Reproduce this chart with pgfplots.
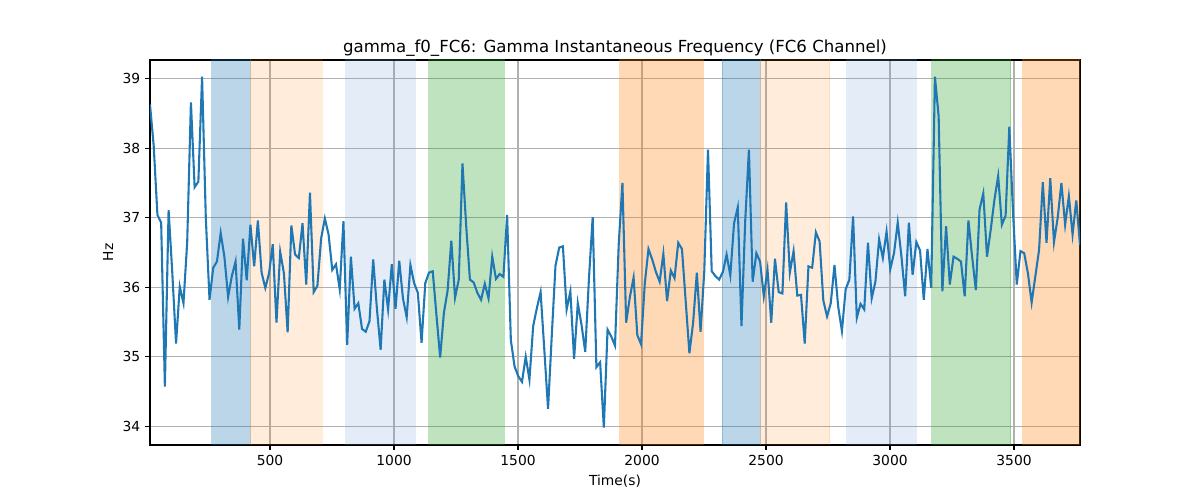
\documentclass[border=0pt]{standalone}
\usepackage{fontspec}
\setmainfont{DejaVu Sans}
\usepackage{pgfplots}
\pgfplotsset{compat=1.18}
\definecolor{tabblue}{HTML}{1F77B4}
\definecolor{taborange}{HTML}{FF7F0E}
\definecolor{tabgreen}{HTML}{2CA02C}
\definecolor{lblue}{RGB}{120,160,215}
\definecolor{gridgray}{HTML}{B0B0B0}
\newcommand{\band}[4]{\addplot[fill=#3, fill opacity=#4, draw=#3, draw opacity=#4, line width=0.72bp, forget plot] coordinates {(#1,30) (#2,30) (#2,40) (#1,40)} -- cycle;}
\begin{document}
\begin{tikzpicture}
\path[use as bounding box] (-108bp,-39.6bp) rectangle (756bp,320.4bp);
\begin{axis}[
 at={(0,0)}, anchor=south west,
 scale only axis, width=669.6bp, height=277.2bp,
 xmin=16, xmax=3766, ymin=33.73, ymax=39.27,
 xtick={500,1000,1500,2000,2500,3000,3500}, ytick={34,35,36,37,38,39},
 grid=major, grid style={gridgray, line width=0.8bp},
 tick align=outside, tick pos=left, major tick length=3.5bp,
 every tick/.style={black, line width=0.8bp},
 axis line style={line width=0.8bp},
 /pgf/number format/assume math mode=true,
 /pgf/number format/1000 sep={},
 tick label style={font=\fontsize{10}{12}\selectfont},
 title={gamma\_f0\_FC6: Gamma Instantaneous Frequency (FC6 Channel)},
 title style={font=\fontsize{12}{14}\selectfont, at={(0.5,1)}, anchor=south, yshift=-7bp},
 xlabel={Time(s)}, ylabel={Hz},
 label style={font=\fontsize{10}{12}\selectfont},
]
\band{265}{421}{tabblue}{0.3}
\band{421}{711}{taborange}{0.15}
\band{806}{1086}{lblue}{0.2}
\band{1140}{1445}{tabgreen}{0.3}
\band{1910}{2247}{taborange}{0.3}
\band{2323}{2476}{tabblue}{0.3}
\band{2476}{2756}{taborange}{0.15}
\band{2825}{3106}{lblue}{0.2}
\band{3168}{3486}{tabgreen}{0.3}
\band{3535}{3800}{taborange}{0.3}
\addplot[tabblue, line width=1.5bp, mark=none] coordinates {
(16,38.63) (31,38.03) (46,37.04) (61,36.93) (76,34.57) (91,37.11) (106,36.20) (121,35.19) (136,36.01) (151,35.77)
(166,36.65) (181,38.66) (196,37.44) (211,37.52) (226,39.03) (241,37.00) (256,35.82) (271,36.28) (286,36.37) (301,36.78)
(316,36.44) (331,35.86) (346,36.16) (361,36.37) (376,35.39) (391,36.70) (406,36.10) (421,36.90) (436,36.30) (451,36.96)
(466,36.21) (481,35.99) (496,36.20) (511,36.62) (526,35.49) (541,36.51) (556,36.20) (571,35.35) (586,36.89) (601,36.47)
(616,36.42) (631,36.92) (646,36.04) (661,37.36) (676,35.93) (691,36.02) (706,36.70) (721,36.99) (736,36.76) (751,36.25)
(766,36.33) (781,35.97) (796,36.95) (811,35.17) (826,36.44) (841,35.69) (856,35.77) (871,35.40) (886,35.36) (901,35.51)
(916,36.40) (931,35.69) (946,35.10) (961,36.11) (976,35.68) (991,36.33) (1006,35.69) (1021,36.38) (1036,35.84) (1051,35.57)
(1066,36.32) (1081,36.06) (1096,35.92) (1111,35.20) (1126,36.06) (1141,36.21) (1156,36.23) (1171,35.60) (1186,34.99) (1201,35.63)
(1216,35.95) (1231,36.67) (1246,35.85) (1261,36.11) (1276,37.78) (1291,36.88) (1306,36.11) (1321,36.07) (1336,35.92) (1351,35.82)
(1366,36.05) (1381,35.84) (1396,36.44) (1411,36.12) (1426,36.19) (1441,36.15) (1456,37.04) (1471,35.24) (1486,34.86) (1501,34.72)
(1516,34.64) (1531,35.00) (1546,34.67) (1561,35.44) (1576,35.70) (1591,35.93) (1606,35.10) (1621,34.25) (1636,35.30) (1651,36.31)
(1666,36.57) (1681,36.59) (1696,35.68) (1711,35.94) (1726,34.97) (1741,35.77) (1756,35.46) (1771,35.07) (1786,36.13) (1801,37.01)
(1816,34.85) (1831,34.92) (1846,33.98) (1861,35.39) (1876,35.29) (1891,35.16) (1906,36.62) (1921,37.50) (1936,35.49) (1951,35.86)
(1966,36.14) (1981,35.31) (1996,35.18) (2011,36.05) (2026,36.55) (2041,36.40) (2056,36.22) (2071,36.08) (2086,36.48) (2101,35.80)
(2116,36.24) (2131,36.13) (2146,36.64) (2161,36.55) (2176,35.80) (2191,35.05) (2206,35.49) (2221,36.21) (2236,35.36) (2251,36.23)
(2266,37.98) (2281,36.23) (2296,36.16) (2311,36.11) (2326,36.22) (2341,36.47) (2356,36.17) (2371,36.92) (2386,37.15) (2401,35.44)
(2416,36.95) (2431,37.98) (2446,36.08) (2461,36.49) (2476,36.37) (2491,35.87) (2506,36.25) (2521,35.49) (2536,36.41) (2551,35.93)
(2566,35.91) (2581,37.22) (2596,36.21) (2611,36.52) (2626,35.88) (2641,35.89) (2656,35.19) (2671,36.30) (2686,36.28) (2701,36.79)
(2716,36.66) (2731,35.81) (2746,35.58) (2761,35.77) (2776,36.32) (2791,35.72) (2806,35.37) (2821,35.97) (2836,36.11) (2851,37.02)
(2866,35.56) (2881,35.76) (2896,35.68) (2911,36.64) (2926,35.84) (2941,36.08) (2956,36.69) (2971,36.42) (2986,36.80) (3001,36.26)
(3016,36.49) (3031,36.93) (3046,36.44) (3061,35.87) (3076,36.93) (3091,36.18) (3106,36.65) (3121,36.53) (3136,35.82) (3151,36.55)
(3166,35.99) (3181,39.03) (3196,38.46) (3211,35.94) (3226,36.88) (3241,36.04) (3256,36.44) (3271,36.41) (3286,36.37) (3301,35.87)
(3316,36.96) (3331,36.44) (3346,35.96) (3361,37.12) (3376,37.35) (3391,36.44) (3406,36.83) (3421,37.26) (3436,37.60) (3451,36.90)
(3466,37.03) (3481,38.31) (3496,37.07) (3511,36.04) (3526,36.52) (3541,36.49) (3556,36.20) (3571,35.78) (3586,36.16) (3601,36.54)
(3616,37.51) (3631,36.64) (3646,37.57) (3661,36.65) (3676,37.00) (3691,37.50) (3706,36.90) (3721,37.31) (3736,36.76) (3751,37.25)
(3766,36.61)
};
\end{axis}
\end{tikzpicture}
\end{document}
